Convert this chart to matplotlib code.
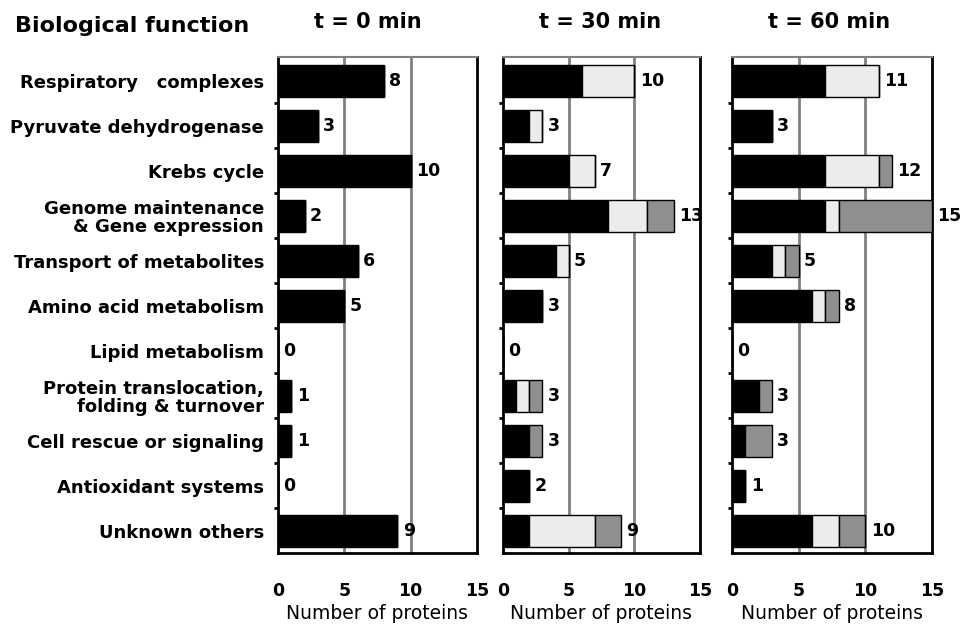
import matplotlib
matplotlib.use("Agg")
import matplotlib.pyplot as plt
import numpy as np

# categories (top to bottom)
categories = [
    "Respiratory   complexes",
    "Pyruvate dehydrogenase",
    "Krebs cycle",
    "Genome maintenance\n& Gene expression",
    "Transport of metabolites",
    "Amino acid metabolism",
    "Lipid metabolism",
    "Protein translocation,\nfolding & turnover",
    "Cell rescue or signaling",
    "Antioxidant systems",
    "Unknown others",
]
titles = ["t = 0 min", "t = 30 min", "t = 60 min"]

# stacked segments per panel: black, light grey, mid grey
black_0 = [8, 3, 10, 2, 6, 5, 0, 1, 1, 0, 9]
light_0 = [0, 0, 0, 0, 0, 0, 0, 0, 0, 0, 0]
grey_0 = [0, 0, 0, 0, 0, 0, 0, 0, 0, 0, 0]

black_30 = [6, 2, 5, 8, 4, 3, 0, 1, 2, 2, 2]
light_30 = [4, 1, 2, 3, 1, 0, 0, 1, 0, 0, 5]
grey_30 = [0, 0, 0, 2, 0, 0, 0, 1, 1, 0, 2]

black_60 = [7, 3, 7, 7, 3, 6, 0, 2, 1, 1, 6]
light_60 = [4, 0, 4, 1, 1, 1, 0, 0, 0, 0, 2]
grey_60 = [0, 0, 1, 7, 1, 1, 0, 1, 2, 0, 2]

panels = [
    (black_0, light_0, grey_0),
    (black_30, light_30, grey_30),
    (black_60, light_60, grey_60),
]
xticks = [0, 5, 10, 15]

plt.rcParams["font.family"] = ["DejaVu Sans"]

fig = plt.figure(figsize=(9.67, 6.28), dpi=100)
lefts = [278 / 967, 503 / 967, 732 / 967]
widths = [199 / 967, 197 / 967, 200 / 967]
bottom = 1 - 553 / 628
height = (553 - 57) / 628

seg_colors = ["black", "#ececec", "#8f8f8f"]
y = np.arange(len(categories))

for i, (blk, lgt, gry) in enumerate(panels):
    ax = fig.add_axes([lefts[i], bottom, widths[i], height])
    left = np.zeros(len(categories))
    for vals, col in zip((blk, lgt, gry), seg_colors):
        vals = np.array(vals, dtype=float)
        ax.barh(y, vals, left=left, height=0.71, color=col,
                edgecolor="black", linewidth=1.0, zorder=3)
        left += vals
    for yy, tot in zip(y, left):
        ax.text(tot + 0.4, yy, f"{int(tot)}", va="center", ha="left",
                fontsize=12.5, fontweight="bold", zorder=4)

    ax.set_xlim(0, 15)
    ax.set_ylim(len(categories) - 1 + 0.49, -0.53)
    ax.set_xticks(xticks)
    ax.set_xticklabels([str(t) for t in xticks], fontsize=12.5,
                       fontweight="bold")
    ax.tick_params(axis="x", length=0, pad=21)
    ax.set_xlabel("Number of proteins", fontsize=13.5, labelpad=3)
    for v in (5, 10):
        ax.axvline(v, color="#808080", linewidth=2, zorder=1)

    for s in ("left", "bottom", "right"):
        ax.spines[s].set_color("black")
        ax.spines[s].set_linewidth(2)
    ax.spines["top"].set_color("#808080")
    ax.spines["top"].set_linewidth(1.5)

    # small marks on the left axis between categories
    ax.set_yticks(y[:-1] + 0.5, minor=True)
    ax.tick_params(axis="y", which="minor", length=3, width=2, color="black")

    if i == 0:
        ax.set_yticks(y)
        ax.set_yticklabels(categories, fontsize=13, fontweight="bold",
                           multialignment="right", linespacing=1.0)
        ax.tick_params(axis="y", which="major", length=0, pad=10)
    else:
        ax.set_yticks([])

    ax.text(36 / (widths[i] * 967), 1.0 + 35 / 496, titles[i],
            transform=ax.transAxes, fontsize=15, fontweight="bold",
            ha="left", va="center")

fig.text(15 / 967, 1 - 26 / 628, "Biological function", fontsize=16,
         fontweight="bold", ha="left", va="center")

fig.savefig("out.png", dpi=100)
